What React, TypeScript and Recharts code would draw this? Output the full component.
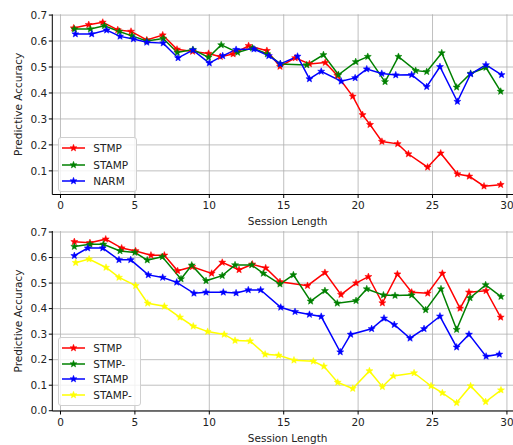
import React from 'react';
import { LineChart, Line, XAxis, YAxis, CartesianGrid, Legend } from 'recharts';

// ---- top panel ----
const topStmpX = [0.89, 1.9, 2.84, 3.85, 4.74, 5.8, 6.87, 7.83, 8.88, 9.95, 10.74, 11.6, 12.64, 13.87, 14.75, 15.77, 16.73, 17.79, 18.6, 19.64, 20.3, 20.8, 21.6, 22.66, 23.38, 24.67, 25.55, 26.67, 27.47, 28.46, 29.58];
const topStmpY = [0.65, 0.663, 0.672, 0.643, 0.637, 0.604, 0.623, 0.568, 0.56, 0.552, 0.54, 0.55, 0.582, 0.563, 0.502, 0.535, 0.512, 0.517, 0.467, 0.387, 0.316, 0.278, 0.213, 0.204, 0.165, 0.114, 0.168, 0.088, 0.079, 0.041, 0.047];
const topStampX = [0.94, 2.01, 2.95, 3.95, 4.8, 5.8, 6.9, 7.85, 8.9, 9.95, 10.8, 11.9, 12.9, 13.9, 14.77, 16.55, 17.67, 18.68, 19.84, 20.65, 21.81, 22.71, 23.87, 24.61, 25.62, 26.62, 27.56, 28.59, 29.58];
const topStampY = [0.646, 0.646, 0.659, 0.637, 0.62, 0.6, 0.61, 0.556, 0.567, 0.537, 0.585, 0.556, 0.573, 0.55, 0.512, 0.508, 0.547, 0.47, 0.52, 0.54, 0.443, 0.54, 0.486, 0.482, 0.554, 0.422, 0.475, 0.498, 0.406];
const topNarmX = [1.0, 2.1, 3.1, 4.0, 4.9, 5.8, 6.9, 7.9, 8.9, 10.0, 10.9, 11.8, 13.0, 14.0, 14.77, 15.93, 16.73, 17.52, 18.86, 19.8, 20.58, 21.59, 22.53, 23.6, 24.61, 25.5, 26.67, 27.56, 28.59, 29.64];
const topNarmY = [0.627, 0.627, 0.642, 0.618, 0.608, 0.595, 0.592, 0.535, 0.565, 0.515, 0.543, 0.567, 0.569, 0.543, 0.512, 0.541, 0.454, 0.483, 0.445, 0.458, 0.492, 0.475, 0.469, 0.47, 0.424, 0.501, 0.367, 0.473, 0.508, 0.47];

// ---- bottom panel ----
const botStmpX = [0.93, 1.98, 3.04, 4.11, 5.05, 6.08, 6.98, 7.87, 8.86, 10.16, 10.87, 12.0, 12.89, 13.79, 14.75, 16.6, 17.77, 18.85, 19.86, 20.69, 21.63, 22.64, 23.6, 24.68, 25.66, 26.85, 27.45, 28.6, 29.58];
const botStmpY = [0.662, 0.658, 0.672, 0.637, 0.626, 0.609, 0.609, 0.548, 0.564, 0.538, 0.581, 0.552, 0.574, 0.559, 0.505, 0.49, 0.541, 0.455, 0.5, 0.525, 0.422, 0.535, 0.464, 0.46, 0.538, 0.401, 0.464, 0.47, 0.366];
const botStmpMinusX = [0.93, 1.98, 2.88, 4.0, 5.0, 5.83, 6.84, 8.1, 8.82, 9.78, 10.87, 11.73, 12.85, 13.63, 14.75, 15.65, 16.81, 17.77, 18.6, 19.86, 20.58, 21.7, 22.48, 23.6, 24.54, 25.57, 26.62, 27.52, 28.57, 29.6];
const botStmpMinusY = [0.643, 0.652, 0.652, 0.626, 0.62, 0.59, 0.603, 0.516, 0.57, 0.509, 0.529, 0.571, 0.571, 0.538, 0.496, 0.532, 0.429, 0.47, 0.421, 0.431, 0.477, 0.453, 0.451, 0.453, 0.395, 0.477, 0.318, 0.442, 0.493, 0.447];
const botStampX = [0.93, 1.83, 2.84, 3.93, 4.72, 5.9, 6.87, 7.81, 8.97, 9.78, 10.94, 11.8, 12.62, 13.45, 14.8, 15.76, 16.73, 17.52, 18.8, 19.5, 20.91, 21.74, 22.43, 23.49, 24.43, 25.5, 26.62, 27.45, 28.6, 29.49];
const botStampY = [0.607, 0.637, 0.637, 0.591, 0.591, 0.532, 0.522, 0.503, 0.46, 0.464, 0.464, 0.461, 0.473, 0.473, 0.405, 0.388, 0.377, 0.369, 0.23, 0.299, 0.321, 0.362, 0.337, 0.284, 0.321, 0.37, 0.249, 0.299, 0.213, 0.221];
const botStampMinusX = [1.02, 1.92, 3.06, 3.93, 5.05, 5.86, 6.98, 8.03, 8.92, 9.89, 11.0, 11.73, 12.74, 13.75, 14.66, 15.69, 16.99, 17.7, 18.63, 19.64, 20.76, 21.63, 22.37, 23.76, 24.9, 25.66, 26.62, 27.56, 28.57, 29.6];
const botStampMinusY = [0.58, 0.594, 0.561, 0.522, 0.49, 0.421, 0.409, 0.366, 0.331, 0.31, 0.299, 0.275, 0.273, 0.221, 0.217, 0.198, 0.194, 0.174, 0.111, 0.087, 0.156, 0.094, 0.136, 0.148, 0.097, 0.07, 0.031, 0.097, 0.035, 0.081];

const xTicks = [0, 5, 10, 15, 20, 25, 30];
const topYTicks = [0.1, 0.2, 0.3, 0.4, 0.5, 0.6, 0.7];
const botYTicks = [0, 0.1, 0.2, 0.3, 0.4, 0.5, 0.6, 0.7];

const zip = (xs: number[], ys: number[]) => xs.map((x, i) => ({ x, y: ys[i] }));

const topSeries = [
  { name: 'STMP', color: '#ff0000', data: zip(topStmpX, topStmpY) },
  { name: 'STAMP', color: '#008000', data: zip(topStampX, topStampY) },
  { name: 'NARM', color: '#0000ff', data: zip(topNarmX, topNarmY) },
];
const botSeries = [
  { name: 'STMP', color: '#ff0000', data: zip(botStmpX, botStmpY) },
  { name: 'STMP-', color: '#008000', data: zip(botStmpMinusX, botStmpMinusY) },
  { name: 'STAMP', color: '#0000ff', data: zip(botStampX, botStampY) },
  { name: 'STAMP-', color: '#ffff00', data: zip(botStampMinusX, botStampMinusY) },
];

const TXT = '#222';
const FS = 10.5;

const Star = ({ cx, cy, color }: { cx: number; cy: number; color: string }) => {
  const pts: string[] = [];
  for (let i = 0; i < 10; i++) {
    const r = i % 2 === 0 ? 3.7 : 1.6;
    const a = -Math.PI / 2 + (i * Math.PI) / 5;
    pts.push(`${cx + r * Math.cos(a)},${cy + r * Math.sin(a)}`);
  }
  return <polygon points={pts.join(' ')} fill={color} stroke={color} strokeWidth={0.5} />;
};

const LegendBox = ({ payload, row, order }: any) => {
  const items = [...(payload || [])].sort((a: any, b: any) => order.indexOf(a.value) - order.indexOf(b.value));
  return (
    <div
      style={{
        background: 'rgba(255,255,255,0.8)',
        border: '1px solid #d0d0d0',
        borderRadius: 3,
        padding: '2px 8px 2px 3px',
        fontSize: FS,
        color: TXT,
      }}
    >
      {items.map((e: any) => (
        <div key={e.value} style={{ display: 'flex', alignItems: 'center', height: row }}>
          <svg width={31} height={10} style={{ display: 'block' }}>
            <line x1={0} y1={5} x2={23} y2={5} stroke={e.color} strokeWidth={1.5} />
            <Star cx={11.5} cy={5} color={e.color} />
          </svg>
          <span>{e.value}</span>
        </div>
      ))}
    </div>
  );
};

const Panel = ({ series, yTicks, yDomain, top, height, plotH, legendTop, row }: any) => (
  <div style={{ position: 'absolute', left: 0, top }}>
    <LineChart width={525} height={height + 6} margin={{ top: height - plotH - 30.5, right: 2, bottom: 6, left: 0 }}>
      <CartesianGrid stroke="#b0b0b0" strokeWidth={0.8} horizontalValues={yTicks} verticalValues={xTicks} />
      <XAxis
        type="number"
        dataKey="x"
        domain={[-0.55, 31.08]}
        ticks={xTicks}
        allowDataOverflow
        height={30.5}
        tickSize={3.5}
        tickMargin={4}
        tick={{ fill: TXT, fontSize: FS }}
        stroke="#000"
        label={{ value: 'Session Length', position: 'insideBottom', offset: 0, fill: TXT, fontSize: FS }}
      />
      <XAxis xAxisId="t" orientation="top" type="number" domain={[-0.55, 31.08]} height={0} tick={false} tickLine={false} stroke="#000" />
      <YAxis
        type="number"
        domain={yDomain}
        ticks={yTicks}
        allowDataOverflow
        width={52.3}
        tickSize={3.5}
        tickMargin={1.5}
        tickFormatter={(v: number) => v.toFixed(1)}
        tick={{ fill: TXT, fontSize: FS }}
        stroke="#000"
        label={{ value: 'Predictive Accuracy', angle: -90, position: 'insideLeft', offset: 18.5, fill: TXT, fontSize: FS, style: { textAnchor: 'middle' } }}
      />
      <Legend
        layout="vertical"
        align="center"
        verticalAlign="middle"
        content={(p: any) => <LegendBox {...p} row={row} order={series.map((s: any) => s.name)} />}
        wrapperStyle={{ left: 58.3, top: legendTop, width: 'auto', height: 'auto' }}
      />
      {series.map((s: any) => (
        <Line
          key={s.name}
          name={s.name}
          data={s.data}
          dataKey="y"
          stroke={s.color}
          strokeWidth={1.5}
          isAnimationActive={false}
          dot={(p: any) => <Star key={p.index} cx={p.cx} cy={p.cy} color={s.color} />}
          activeDot={false}
        />
      ))}
    </LineChart>
  </div>
);

export default function App() {
  return (
    <div
      style={{
        position: 'absolute',
        left: 0,
        top: 0,
        width: 513,
        height: 445,
        overflow: 'hidden',
        background: '#fff',
        fontFamily: 'DejaVu Sans',
      }}
    >
      <Panel series={topSeries} yTicks={topYTicks} yDomain={[0.009, 0.703]} top={0} height={225} plotH={180.2} legendTop={137.3} row={16.2} />
      <Panel series={botSeries} yTicks={botYTicks} yDomain={[-0.001, 0.704]} top={215} height={226.5} plotH={180} legendTop={122.3} row={15.6} />
    </div>
  );
}
